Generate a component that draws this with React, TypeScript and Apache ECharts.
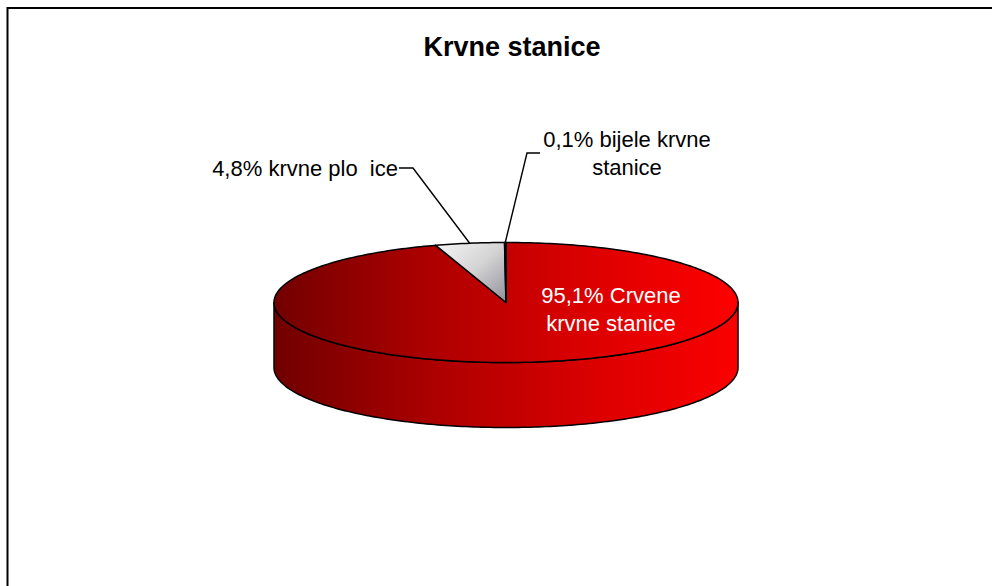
import React, { useEffect, useRef } from "react";
import * as echarts from "echarts";

const title = "Krvne stanice";
const categories = ["Crvene krvne stanice", "krvne pločice", "bijele krvne stanice"];
const values = [95.1, 4.8, 0.1];

const CX = 506, CY = 302.5, RX = 232, RY = 60, DEPTH = 65;

const redGrad = () =>
  new echarts.graphic.LinearGradient(0, 0, 1, 0, [
    { offset: 0, color: "#720000" },
    { offset: 0.3, color: "#a80000" },
    { offset: 0.65, color: "#d90000" },
    { offset: 1, color: "#ff0000" },
  ]);
const sideGrad = () =>
  new echarts.graphic.LinearGradient(0, 0, 1, 0, [
    { offset: 0, color: "#700000" },
    { offset: 0.35, color: "#ad0000" },
    { offset: 0.7, color: "#dc0000" },
    { offset: 1, color: "#fb0000" },
  ]);
const whiteGrad = () =>
  new echarts.graphic.LinearGradient(0, 0, 1, 1, [
    { offset: 0, color: "#f6f6f6" },
    { offset: 0.5, color: "#d4d4d4" },
    { offset: 1, color: "#8f8f9c" },
  ]);

const pt = (f: number, dy = 0) => {
  const a = f * 2 * Math.PI;
  return [CX + RX * Math.sin(a), CY + dy - RY * Math.cos(a)];
};

const total = values.reduce((a, b) => a + b, 0);
const starts = values.map((_, i) => values.slice(0, i).reduce((a, b) => a + b, 0) / total);

const labelTexts: { lines: string[]; x: number; y: number; color: string; align: string }[] = [
  { lines: ["95,1% Crvene", "krvne stanice"], x: 611, y: 295, color: "#ffffff", align: "center" },
  { lines: ["4,8% krvne plo  ice"], x: 398, y: 168, color: "#000000", align: "right" },
  { lines: ["0,1% bijele krvne", "stanice"], x: 627, y: 139, color: "#000000", align: "center" },
];
const elbows: (number[][] | null)[] = [null, [[413, 168], [399, 168]], [[527, 153], [540, 153]]];

function renderSlice(_: any, api: any) {
  const i = api.value(2) as number;
  const f0 = api.value(0) as number;
  const f1 = f0 + (api.value(1) as number) / total;
  const children: any[] = [];
  const rim = (a: number, b: number, dy: number) => {
    const out: number[][] = [];
    const n = Math.max(2, Math.ceil(Math.abs(b - a) * 360));
    for (let k = 0; k <= n; k++) out.push(pt(a + ((b - a) * k) / n, dy));
    return out;
  };
  if (i === 0) {
    children.push({
      type: "polygon",
      shape: { points: [...rim(0.25, 0.75, 0), ...rim(0.75, 0.25, DEPTH)] },
      style: { fill: sideGrad(), stroke: "#000", lineWidth: 1.5, lineJoin: "round" },
    });
  }
  children.push({
    type: "polygon",
    shape: { points: [[CX, CY], ...rim(f0, f1, 0)] },
    style: { fill: i === 0 ? redGrad() : whiteGrad(), stroke: "#000", lineWidth: 1.5, lineJoin: "round" },
    z2: i + 1,
  });
  const elbow = elbows[i];
  if (elbow) {
    const m = pt(f0 + (f1 - f0) / 2);
    children.push({
      type: "polyline",
      shape: { points: [m, ...elbow] },
      style: { fill: "none", stroke: "#000", lineWidth: 1.4 },
      z2: 5,
    });
  }
  const lb = labelTexts[i];
  lb.lines.forEach((t, k) =>
    children.push({
      type: "text",
      style: {
        text: t,
        x: lb.x,
        y: lb.y + k * 28.5,
        fill: lb.color,
        font: '22px "Liberation Sans"',
        align: lb.align,
        verticalAlign: "middle",
      },
      z2: 10,
    })
  );
  return { type: "group", children };
}

export default function App() {
  const ref = useRef<HTMLDivElement>(null);
  useEffect(() => {
    const chart = echarts.init(ref.current!, undefined, { renderer: "svg" });
    chart.setOption({
      animation: false,
      backgroundColor: "#ffffff",
      title: {
        text: title,
        left: 507,
        top: 28,
        textAlign: "center",
        textStyle: { fontFamily: "Liberation Sans", fontSize: 27, fontWeight: "bold", color: "#000" },
      },
      graphic: [
        {
          type: "polyline",
          shape: { points: [[7.5, 600], [7.5, 8], [1000, 8]] },
          style: { fill: "none", stroke: "#000", lineWidth: 2 },
        },
      ],
      series: [
        {
          type: "custom",
          coordinateSystem: "none",
          silent: true,
          renderItem: renderSlice,
          data: values.map((v, i) => ({ name: categories[i], value: [starts[i], v, i] })),
        },
      ],
    });
    return () => chart.dispose();
  }, []);
  return <div ref={ref} style={{ position: "fixed", left: 0, top: 0, width: 992, height: 586 }} />;
}
